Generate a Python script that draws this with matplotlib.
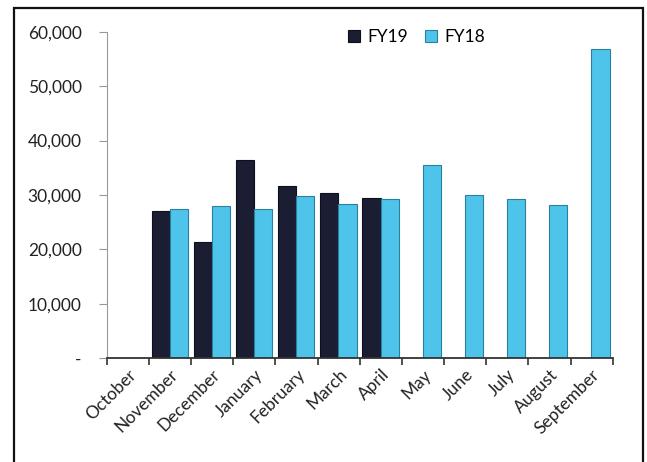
import numpy as np
from matplotlib import pyplot as plt
from matplotlib.patches import Rectangle
from matplotlib.ticker import FuncFormatter

plt.rcParams['font.family'] = ['Lato', 'DejaVu Sans']

months = ['October', 'November', 'December', 'January', 'February', 'March',
          'April', 'May', 'June', 'July', 'August', 'September']
fy19 = [np.nan, 27000, 21400, 36500, 31700, 30400, 29500,
        np.nan, np.nan, np.nan, np.nan, np.nan]
fy18 = [np.nan, 27400, 28000, 27400, 29800, 28400, 29300,
        35500, 30000, 29300, 28200, 56900]

fig = plt.figure(figsize=(6.47, 4.62), dpi=100)
ax = fig.add_axes([0.165, 0.225, 0.782, 0.706])

x = np.arange(len(months))
w = 0.43
ax.bar(x - 0.22, fy19, w, color='#1b1e33', edgecolor='#0d0f1c', linewidth=0.8, label='FY19')
ax.bar(x + 0.21, fy18, w, color='#4ec4ea', edgecolor='#2a7f9e', linewidth=0.8, label='FY18')

ax.set_xlim(-0.5, len(months) - 0.5)
ax.set_ylim(0, 60000)
ax.set_yticks(np.arange(0, 60001, 10000))
ax.yaxis.set_major_formatter(FuncFormatter(lambda v, p: '-' if v == 0 else f'{v:,.0f}'))

# category labels sit between the boundary ticks
ax.set_xticks(np.arange(-0.5, len(months), 1.0))
ax.set_xticklabels([])
ax.set_xticks(x, minor=True)
ax.set_xticklabels(months, minor=True, rotation=45, ha='right',
                   rotation_mode='anchor', fontsize=12.5, color='#222222')
ax.tick_params(axis='x', which='minor', length=0, pad=6)
ax.tick_params(axis='x', which='major', length=5, width=1.2, color='#333333')
ax.tick_params(axis='y', length=6, color='#999999', labelsize=12.5,
               labelcolor='#222222', pad=12)

for s in ['top', 'right']:
    ax.spines[s].set_visible(False)
ax.spines['left'].set_color('#999999')
ax.spines['bottom'].set_color('#333333')
ax.spines['bottom'].set_linewidth(1.3)

ax.legend(loc='center', bbox_to_anchor=(0.612, 0.985), ncol=2, frameon=False,
          fontsize=12.5, handlelength=0.7, handleheight=0.7, columnspacing=1.0,
          handletextpad=0.4)

fig.add_artist(Rectangle((14 / 647, -0.02), (643 - 14) / 647, 1 - 8 / 462 + 0.02,
                         transform=fig.transFigure, fill=False,
                         edgecolor='#111111', linewidth=1.6))

fig.savefig('out.png', dpi=100)
